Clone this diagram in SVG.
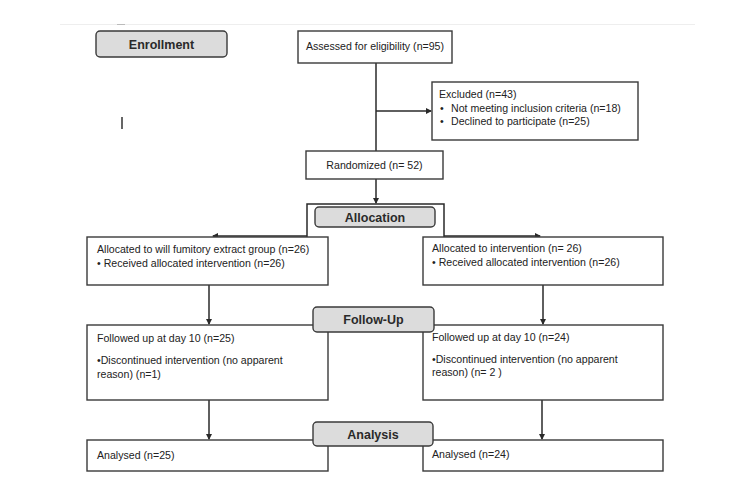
<svg xmlns="http://www.w3.org/2000/svg" width="750" height="499" viewBox="0 0 750 499">
<style>
.box{fill:#fff;stroke:#3a3a3a;stroke-width:1.4}
.hdr{fill:#dcdcdc;stroke:#3a3a3a;stroke-width:1.4}
.t{font-family:"Liberation Sans",Arial,sans-serif;font-size:10.6px;fill:#222}
.h{font-family:"Liberation Sans",Arial,sans-serif;font-size:12.5px;font-weight:bold;fill:#2a2a2a;text-anchor:middle}
.ln{stroke:#2a2a2a;stroke-width:1.5;fill:none}
.ah{fill:#2a2a2a}
</style>
<defs>
<marker id="arr" markerWidth="6" markerHeight="6" refX="5" refY="3" orient="auto" markerUnits="userSpaceOnUse">
<path d="M0,0 L6,3 L0,6 Z" class="ah"/>
</marker>
</defs>
<rect width="750" height="499" fill="#fff"/>
<line x1="60" y1="24.5" x2="695" y2="24.5" stroke="#eeeeee" stroke-width="1"/>
<line x1="117" y1="24.5" x2="125" y2="24.5" stroke="#bbbbbb" stroke-width="1"/>
<line x1="122" y1="117" x2="122" y2="129" stroke="#333" stroke-width="1.5"/>

<g id="connectors">
<line class="ln" x1="376" y1="63" x2="376" y2="151"/>
<line class="ln" x1="376" y1="111" x2="431" y2="111" marker-end="url(#arr)"/>
<line class="ln" x1="376" y1="179" x2="376" y2="203" marker-end="url(#arr)"/>
<polyline class="ln" points="307,237 307,204 444,204 444,237"/>
<polyline class="ln" points="307,236 213,236" marker-end="url(#arr)"/>
<polyline class="ln" points="444,236 540,236" marker-end="url(#arr)"/>
<line class="ln" x1="209" y1="285" x2="209" y2="324" marker-end="url(#arr)"/>
<line class="ln" x1="543" y1="285" x2="543" y2="324" marker-end="url(#arr)"/>
<line class="ln" x1="209" y1="400" x2="209" y2="439" marker-end="url(#arr)"/>
<line class="ln" x1="542" y1="400" x2="542" y2="439" marker-end="url(#arr)"/>
</g>

<g id="enrollment">
<rect class="hdr" x="96" y="31" width="131" height="26" rx="4"/>
<text class="h" x="161.5" y="48.5">Enrollment</text>
</g>
<g id="assessed">
<rect class="box" x="298" y="31" width="154" height="32"/>
<text class="t" x="375" y="50" text-anchor="middle">Assessed for eligibility (n=95)</text>
</g>
<g id="excluded">
<rect class="box" x="432" y="82" width="206" height="58"/>
<text class="t" x="439" y="98">Excluded (n=43)</text>
<text class="t" x="440" y="112">•<tspan x="451">Not meeting inclusion criteria (n=18)</tspan></text>
<text class="t" x="440" y="125">•<tspan x="451">Declined to participate (n=25)</tspan></text>
</g>
<g id="randomized">
<rect class="box" x="306" y="151" width="137" height="28"/>
<text class="t" x="374.5" y="168.5" text-anchor="middle">Randomized (n= 52)</text>
</g>
<g id="allocation">
<rect class="hdr" x="315" y="207" width="120" height="20" rx="4"/>
<text class="h" x="375" y="221.5">Allocation</text>
</g>
<g id="alloc-left">
<rect class="box" x="87" y="237" width="241" height="48"/>
<text class="t" x="97" y="253">Allocated to will fumitory extract group (n=26)</text>
<text class="t" x="97" y="267">• Received allocated intervention (n=26)</text>
</g>
<g id="alloc-right">
<rect class="box" x="423" y="237" width="240" height="48"/>
<text class="t" x="432" y="252">Allocated to intervention (n= 26)</text>
<text class="t" x="432" y="266">• Received allocated intervention (n=26)</text>
</g>
<g id="follow-left">
<rect class="box" x="87" y="325" width="241" height="75"/>
<text class="t" x="97" y="342">Followed up at day 10 (n=25)</text>
<text class="t" x="97" y="364">•Discontinued intervention (no apparent</text>
<text class="t" x="97" y="378">reason) (n=1)</text>
</g>
<g id="follow-right">
<rect class="box" x="423" y="325" width="240" height="75"/>
<text class="t" x="432" y="341">Followed up at day 10 (n=24)</text>
<text class="t" x="432" y="363">•Discontinued intervention (no apparent</text>
<text class="t" x="432" y="376">reason) (n= 2 )</text>
</g>
<g id="followup">
<rect class="hdr" x="313" y="307" width="121" height="25" rx="4"/>
<text class="h" x="373.5" y="324">Follow-Up</text>
</g>
<g id="analysed-left">
<rect class="box" x="87" y="440" width="241" height="31"/>
<text class="t" x="97" y="459">Analysed (n=25)</text>
</g>
<g id="analysed-right">
<rect class="box" x="423" y="440" width="240" height="31"/>
<text class="t" x="432" y="458">Analysed (n=24)</text>
</g>
<g id="analysis">
<rect class="hdr" x="313" y="422" width="120" height="24" rx="4"/>
<text class="h" x="373" y="439">Analysis</text>
</g>
</svg>
